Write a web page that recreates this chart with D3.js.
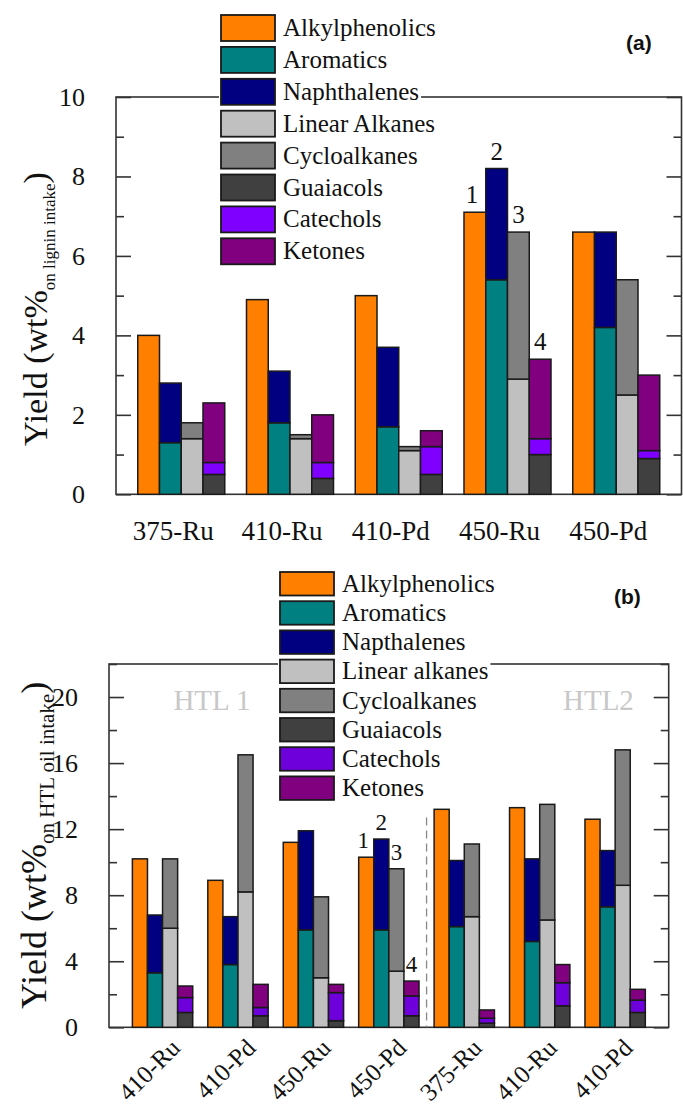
<!DOCTYPE html>
<html><head><meta charset="utf-8">
<script src="https://cdn.jsdelivr.net/npm/d3@7"></script>
<style>body{margin:0;background:#fff}svg{display:block}svg text{font-family:'Liberation Serif','Times New Roman',serif}</style>
</head><body>
<svg id="chart" width="683" height="1107"></svg>
<script>
// ---------- DATA ----------
const categoriesA = ["375-Ru", "410-Ru", "410-Pd", "450-Ru", "450-Pd"];
const alkylphenolicsA = [4.0, 4.9, 5.0, 7.1, 6.6];
const aromaticsA      = [1.3, 1.8, 1.7, 5.4, 4.2];
const naphthalenesA   = [1.5, 1.3, 2.0, 2.8, 2.4];
const linearAlkanesA  = [1.4, 1.4, 1.1, 2.9, 2.5];
const cycloalkanesA   = [0.4, 0.1, 0.1, 3.7, 2.9];
const guaiacolsA      = [0.5, 0.4, 0.5, 1.0, 0.9];
const catecholsA      = [0.3, 0.4, 0.7, 0.4, 0.2];
const ketonesA        = [1.5, 1.2, 0.4, 2.0, 1.9];
const legendA = ["Alkylphenolics", "Aromatics", "Naphthalenes", "Linear Alkanes", "Cycloalkanes", "Guaiacols", "Catechols", "Ketones"];
const ticksA = [0, 2, 4, 6, 8, 10];

const categoriesB = ["410-Ru", "410-Pd", "450-Ru", "450-Pd", "375-Ru", "410-Ru", "410-Pd"];
const alkylphenolicsB = [10.2, 8.9, 11.2, 10.3, 13.2, 13.3, 12.6];
const aromaticsB      = [3.3, 3.8, 5.9, 5.9, 6.1, 5.2, 7.3];
const naphthalenesB   = [3.5, 2.9, 6.0, 5.5, 4.0, 5.0, 3.4];
const linearAlkanesB  = [6.0, 8.2, 3.0, 3.4, 6.7, 6.5, 8.6];
const cycloalkanesB   = [4.2, 8.3, 4.9, 6.2, 4.4, 7.0, 8.2];
const guaiacolsB      = [0.9, 0.7, 0.4, 0.7, 0.25, 1.3, 0.9];
const catecholsB      = [0.9, 0.5, 1.7, 1.2, 0.3, 1.4, 0.75];
const ketonesB        = [0.7, 1.4, 0.5, 0.9, 0.5, 1.1, 0.65];
const legendB = ["Alkylphenolics", "Aromatics", "Napthalenes", "Linear alkanes", "Cycloalkanes", "Guaiacols", "Catechols", "Ketones"];
const ticksB = [0, 4, 8, 12, 16, 20];
const groupLabelsB = ["HTL 1", "HTL2"];

const annotLabels = ["1", "2", "3", "4"];

// ---------- STYLE ----------
const colorsA = ["#FF8000", "#008080", "#000080", "#C0C0C0", "#808080", "#404040", "#8000FF", "#800080"];
const colorsB = ["#FF8000", "#008080", "#000080", "#C0C0C0", "#808080", "#404040", "#6E00DC", "#800080"];
const SERIF = "'Liberation Serif','Times New Roman',serif";
const SANS = "'Liberation Sans',Arial,sans-serif";

const svg = d3.select("#chart");

function drawPanel(o) {
  const g = svg.append("g");
  const idx = o.categories.map((d, i) => i);
  const x0 = d3.scaleBand().domain(idx).range([o.left, o.right]).paddingInner(0.2).paddingOuter(o.padOuter);
  const x1 = d3.scaleBand().domain([0, 1, 2, 3]).range([0, x0.bandwidth()]).padding(0);
  const y = d3.scaleLinear().domain(o.yDomain).range([o.bottom, o.top]);

  // stacks: bar0 = [0], bar1 = [1,2], bar2 = [3,4], bar3 = [5,6,7]
  const stacks = [[0], [1, 2], [3, 4], [5, 6, 7]];
  const segs = [];
  idx.forEach(i => {
    stacks.forEach((st, b) => {
      let base = 0;
      st.forEach(s => {
        const v = o.series[s][i];
        segs.push({ i, b, s, y0: base, y1: base + v });
        base += v;
      });
    });
  });

  // frame
  g.append("rect").attr("x", o.left).attr("y", o.top)
    .attr("width", o.right - o.left).attr("height", o.bottom - o.top)
    .attr("fill", "none").attr("stroke", "#333").attr("stroke-width", 1.6);

  // bars
  g.selectAll("rect.bar").data(segs).join("rect").attr("class", "bar")
    .attr("x", d => x0(d.i) + x1(d.b))
    .attr("width", x1.bandwidth())
    .attr("y", d => y(d.y1))
    .attr("height", d => y(d.y0) - y(d.y1))
    .attr("fill", d => o.colors[d.s])
    .attr("stroke", "#1a1a1a").attr("stroke-width", 1.5);

  // axes: left with labels, ticks inward
  const minor = d3.range(o.yDomain[0], o.yDomain[1] + 0.001, o.minorStep);
  const yAxisL = d3.axisLeft(y).tickValues(o.ticks).tickSize(-15).tickPadding(31).tickFormat(d3.format("d"));
  const gl = g.append("g").attr("transform", `translate(${o.left},0)`).call(yAxisL);
  gl.attr("font-family", SERIF);
  gl.select(".domain").remove();
  gl.selectAll(".tick line").attr("stroke", "#333").attr("stroke-width", 1.6);
  gl.selectAll(".tick text").style("font-family", SERIF).attr("font-size", 26).attr("fill", "#111");
  const glm = g.append("g").attr("transform", `translate(${o.left},0)`)
    .call(d3.axisLeft(y).tickValues(minor.filter(v => !o.ticks.includes(v))).tickSize(-8).tickFormat(""));
  glm.select(".domain").remove();
  glm.selectAll(".tick line").attr("stroke", "#333").attr("stroke-width", 1.6);

  const gr = g.append("g").attr("transform", `translate(${o.right},0)`)
    .call(d3.axisRight(y).tickValues(o.ticks).tickSize(-15).tickFormat(""));
  gr.select(".domain").remove();
  gr.selectAll(".tick line").attr("stroke", "#333").attr("stroke-width", 1.6);
  const grm = g.append("g").attr("transform", `translate(${o.right},0)`)
    .call(d3.axisRight(y).tickValues(minor.filter(v => !o.ticks.includes(v))).tickSize(-8).tickFormat(""));
  grm.select(".domain").remove();
  grm.selectAll(".tick line").attr("stroke", "#333").attr("stroke-width", 1.6);

  // x labels
  if (o.rotate) {
    g.selectAll("text.xl").data(idx).join("text").attr("class", "xl")
      .attr("transform", d => `translate(${x0(d) + x0.bandwidth() / 2 + 19},${o.bottom + 22}) rotate(-45)`)
      .attr("text-anchor", "end").attr("font-size", 25).attr("fill", "#111")
      .text(d => o.categories[d]);
  } else {
    g.selectAll("text.xl").data(idx).join("text").attr("class", "xl")
      .attr("x", d => x0(d) + x0.bandwidth() / 2 - 8).attr("y", o.bottom + 46)
      .attr("text-anchor", "middle").attr("font-size", 27).attr("fill", "#111")
      .text(d => o.categories[d]);
  }

  // annotations over group
  const ag = o.annotGroup;
  const tops = [0, 1, 2, 3].map(b => d3.max(segs.filter(d => d.i === ag && d.b === b), d => d.y1));
  g.selectAll("text.an").data(annotLabels).join("text").attr("class", "an")
    .attr("x", (d, b) => x0(ag) + x1(b) + x1.bandwidth() / 2 + (b === 0 ? -3 : 0))
    .attr("y", (d, b) => y(tops[b]) - o.annotGap)
    .attr("text-anchor", "middle").attr("font-size", o.annotSize).attr("fill", "#111")
    .text(d => d);

  // y title
  const t = g.append("text").attr("transform", `translate(${o.titleX},${o.titleY}) rotate(-90)`)
    .attr("fill", "#111").attr("text-anchor", "start");
  t.append("tspan").attr("font-size", o.titleSize).text("Yield (wt%");
  t.append("tspan").attr("font-size", o.subSize).attr("dy", 8).text(o.sub);
  t.append("tspan").attr("font-size", o.titleSize).attr("dy", -8).text(")");

  // panel label
  g.append("text").attr("x", o.tagX).attr("y", o.tagY).style("font-family", SANS).attr("font-weight", "bold")
    .attr("font-size", 21).attr("fill", "#111").text(o.tag);

  // legend
  const lg = g.append("g");
  o.legend.forEach((name, k) => {
    const yy = o.legTop + k * o.legStep;
    const row = lg.append("g");
    const bg = row.append("rect").attr("fill", "#fff");
    row.append("rect").attr("x", o.legX).attr("y", yy).attr("width", 54).attr("height", o.legBox)
      .attr("fill", o.colors[k]).attr("stroke", "#1a1a1a").attr("stroke-width", 1.8);
    const tx = row.append("text").attr("x", o.legX + 62).attr("y", yy + o.legBox / 2 + 8)
      .attr("font-size", 25).attr("fill", "#111").text(name);
    const w = tx.node().getComputedTextLength();
    bg.attr("x", o.legX - 2).attr("y", yy - 2).attr("width", 62 + w + 4).attr("height", o.legBox + 4);
  });

  return { g, x0, y };
}

// Panel (a)
drawPanel({
  categories: categoriesA,
  series: [alkylphenolicsA, aromaticsA, naphthalenesA, linearAlkanesA, cycloalkanesA, guaiacolsA, catecholsA, ketonesA],
  colors: colorsA, legend: legendA, ticks: ticksA, minorStep: 1,
  left: 116, right: 681.5, top: 97, bottom: 494.3, yDomain: [0, 10], padOuter: 0.2,
  rotate: false, annotGroup: 3, annotGap: 9, annotSize: 25,
  titleX: 47, titleY: 446, titleSize: 34, subSize: 17, sub: "on lignin intake",
  tag: "(a)", tagX: 626, tagY: 50,
  legX: 221, legTop: 15, legStep: 31.9, legBox: 26
});

// Panel (b)
const pb = drawPanel({
  categories: categoriesB,
  series: [alkylphenolicsB, aromaticsB, naphthalenesB, linearAlkanesB, cycloalkanesB, guaiacolsB, catecholsB, ketonesB],
  colors: colorsB, legend: legendB, ticks: ticksB, minorStep: 2,
  left: 109, right: 668.7, top: 664, bottom: 1027.3, yDomain: [0, 22], padOuter: 0.31,
  rotate: true, annotGroup: 3, annotGap: 9, annotSize: 23,
  titleX: 46, titleY: 1009, titleSize: 36, subSize: 21, sub: "on HTL oil intake",
  tag: "(b)", tagX: 614, tagY: 604,
  legX: 280, legTop: 572, legStep: 29.2, legBox: 23.5
});

// dashed separator between HTL1 and HTL2 groups
const sepX = (pb.x0(3) + pb.x0.bandwidth() + pb.x0(4)) / 2;
pb.g.append("line").attr("x1", sepX).attr("x2", sepX).attr("y1", pb.y(12.7)).attr("y2", pb.y(0))
  .attr("stroke", "#888").attr("stroke-width", 1.3).attr("stroke-dasharray", "8,5");

// HTL group labels
pb.g.selectAll("text.htl").data(groupLabelsB).join("text").attr("class", "htl")
  .attr("x", (d, i) => i === 0 ? pb.x0(0) + 41 : pb.x0(6) - 22)
  .attr("y", pb.y(19.2))
  .attr("font-size", 29).attr("fill", "#c8c8c8")
  .text(d => d);
</script>
</body></html>
